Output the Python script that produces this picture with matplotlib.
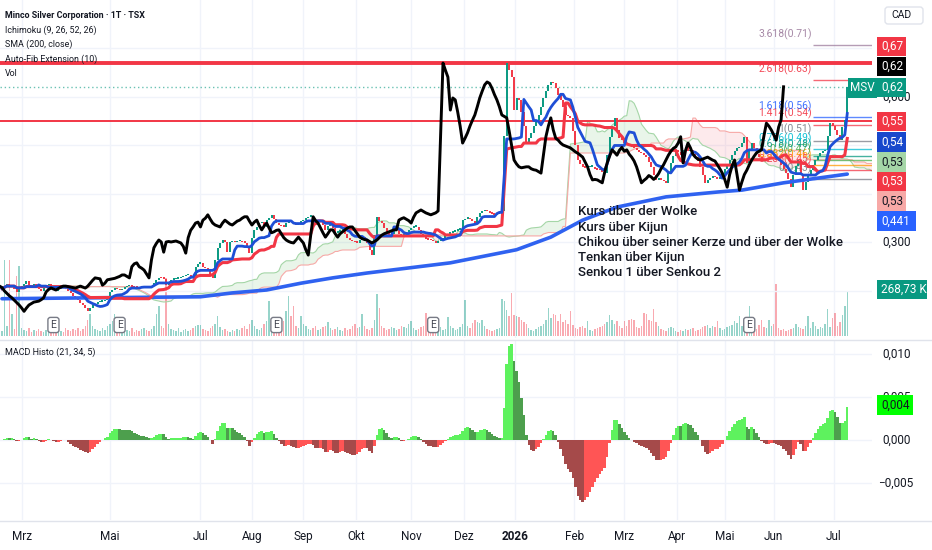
import numpy as np
import pandas as pd
import matplotlib
matplotlib.use("Agg")
import matplotlib.pyplot as plt
from matplotlib.patches import Rectangle, FancyBboxPatch

plt.rcParams['font.family'] = ['Roboto', 'DejaVu Sans']

# daily closes (Minco Silver, TSX)
close = [
    0.205, 0.21, 0.215, 0.208, 0.212, 0.205, 0.198, 0.205, 0.21, 0.215,
    0.22, 0.212, 0.208, 0.215, 0.21, 0.205, 0.2, 0.208, 0.212, 0.215,
    0.21, 0.205, 0.2, 0.205, 0.212, 0.21, 0.207, 0.2, 0.195, 0.19,
    0.186, 0.181, 0.176, 0.171, 0.165, 0.158, 0.165, 0.171, 0.174, 0.177,
    0.178, 0.179, 0.182, 0.186, 0.198, 0.203, 0.206, 0.204, 0.202, 0.205,
    0.208, 0.21, 0.21, 0.209, 0.208, 0.207, 0.206, 0.208, 0.21, 0.208,
    0.206, 0.21, 0.216, 0.222, 0.227, 0.226, 0.225, 0.212, 0.216, 0.223,
    0.224, 0.225, 0.226, 0.228, 0.23, 0.233, 0.233, 0.23, 0.227, 0.25,
    0.256, 0.258, 0.25, 0.247, 0.243, 0.235, 0.227, 0.264, 0.289, 0.298,
    0.305, 0.301, 0.28, 0.301, 0.302, 0.301, 0.302, 0.303, 0.301, 0.299,
    0.292, 0.278, 0.31, 0.325, 0.332, 0.34, 0.342, 0.332, 0.346, 0.35,
    0.357, 0.348, 0.34, 0.336, 0.334, 0.332, 0.34, 0.346, 0.342, 0.338,
    0.336, 0.34, 0.344, 0.346, 0.35, 0.353, 0.353, 0.344, 0.336, 0.342,
    0.346, 0.335, 0.326, 0.334, 0.34, 0.33, 0.32, 0.322, 0.325, 0.326,
    0.318, 0.31, 0.305, 0.302, 0.3, 0.299, 0.305, 0.311, 0.305, 0.299,
    0.285, 0.274, 0.315, 0.353, 0.345, 0.34, 0.33, 0.32, 0.311, 0.318,
    0.326, 0.326, 0.318, 0.311, 0.318, 0.322, 0.326, 0.33, 0.332, 0.332,
    0.325, 0.318, 0.311, 0.308, 0.306, 0.305, 0.302, 0.299, 0.302, 0.305,
    0.31, 0.315, 0.318, 0.32, 0.322, 0.324, 0.326, 0.326, 0.346, 0.349,
    0.351, 0.348, 0.345, 0.34, 0.352, 0.361, 0.364, 0.367, 0.364, 0.361,
    0.359, 0.357, 0.359, 0.361, 0.365, 0.52, 0.67, 0.655, 0.641, 0.573,
    0.598, 0.594, 0.569, 0.54, 0.505, 0.515, 0.526, 0.54, 0.552, 0.563,
    0.58, 0.598, 0.612, 0.625, 0.631, 0.628, 0.618, 0.605, 0.594, 0.58,
    0.563, 0.56, 0.557, 0.53, 0.5, 0.47, 0.462, 0.456, 0.454, 0.455,
    0.456, 0.456, 0.452, 0.45, 0.449, 0.446, 0.443, 0.48, 0.518, 0.54,
    0.557, 0.532, 0.515, 0.511, 0.505, 0.501, 0.499, 0.497, 0.495, 0.491,
    0.487, 0.484, 0.48, 0.476, 0.466, 0.456, 0.44, 0.429, 0.43, 0.429,
    0.426, 0.423, 0.445, 0.464, 0.478, 0.491, 0.486, 0.48, 0.49, 0.496,
    0.488, 0.491, 0.482, 0.476, 0.468, 0.456, 0.44, 0.423, 0.428, 0.432,
    0.438, 0.435, 0.43, 0.435, 0.442, 0.452, 0.46, 0.47, 0.48, 0.488,
    0.494, 0.497, 0.505, 0.518, 0.464, 0.49, 0.505, 0.495, 0.482, 0.476,
    0.472, 0.47, 0.472, 0.474, 0.476, 0.473, 0.47, 0.468, 0.46, 0.452,
    0.443, 0.43, 0.414, 0.44, 0.458, 0.47, 0.44, 0.408, 0.425, 0.44,
    0.449, 0.46, 0.47, 0.478, 0.485, 0.488, 0.491, 0.52, 0.546, 0.54,
    0.532, 0.522, 0.511, 0.538, 0.553, 0.621,
]

# volume in thousands
volume_k = [
    30, 456, 60, 456, 132, 40, 360, 420, 50, 36,
    30, 48, 24, 36, 30, 42, 30, 24, 36, 48,
    30, 24, 36, 42, 30, 24, 48, 36, 30, 42,
    36, 48, 30, 42, 60, 96, 132, 60, 42, 36,
    30, 48, 36, 60, 72, 90, 132, 48, 36, 30,
    42, 36, 30, 48, 24, 36, 30, 42, 48, 36,
    30, 42, 60, 132, 180, 60, 48, 348, 72, 42,
    36, 30, 48, 24, 36, 42, 30, 36, 48, 60,
    66, 66, 42, 36, 30, 48, 60, 72, 120, 54,
    36, 42, 30, 24, 36, 30, 42, 36, 48, 60,
    42, 72, 96, 60, 42, 36, 48, 72, 90, 210,
    60, 42, 36, 48, 30, 90, 150, 240, 120, 180,
    60, 48, 120, 72, 60, 42, 36, 48, 60, 36,
    42, 54, 60, 84, 48, 36, 42, 54, 36, 30,
    48, 36, 42, 60, 72, 48, 54, 132, 60, 42,
    36, 48, 96, 252, 168, 60, 48, 36, 42, 54,
    48, 36, 42, 60, 54, 48, 72, 90, 48, 36,
    42, 54, 60, 138, 66, 48, 36, 42, 48, 54,
    36, 42, 114, 60, 48, 36, 42, 54, 72, 216,
    60, 48, 78, 96, 84, 78, 96, 60, 42, 36,
    30, 36, 42, 48, 222, 210, 156, 120, 258, 126,
    120, 114, 96, 84, 72, 48, 36, 30, 42, 54,
    60, 72, 96, 168, 108, 132, 126, 90, 132, 84,
    96, 72, 150, 66, 48, 42, 54, 60, 48, 90,
    36, 30, 42, 48, 54, 60, 72, 84, 126, 96,
    72, 90, 60, 48, 90, 60, 96, 102, 96, 54,
    48, 60, 138, 132, 96, 90, 162, 84, 60, 42,
    36, 30, 48, 54, 48, 30, 24, 36, 30, 42,
    36, 42, 48, 30, 36, 42, 54, 60, 66, 48,
    60, 54, 90, 48, 36, 42, 54, 60, 66, 90,
    78, 120, 60, 54, 72, 180, 60, 48, 42, 66,
    96, 54, 48, 96, 60, 72, 312, 48, 36, 42,
    30, 36, 42, 48, 72, 54, 48, 42, 60, 120,
    48, 84, 60, 42, 54, 48, 72, 162, 54, 108,
    138, 60, 84, 126, 180, 268.73,
]

# SMA 200 (bar index, value)
sma_bars = [0, 40, 81, 94, 108, 122, 135, 149, 162, 183, 210, 224, 237, 251, 271, 292, 302, 319, 345]
sma_vals = [0.184, 0.186, 0.188, 0.196, 0.202, 0.216, 0.227, 0.237, 0.245, 0.258, 0.285,
            0.311, 0.346, 0.373, 0.394, 0.404, 0.408, 0.423, 0.441]

fib_ratios = ["0", "0.236", "0.382", "0.5", "0.618", "0.786", "1", "1.414", "1.618", "2.618", "3.618"]
fib_prices = [0.43, 0.449, 0.46, 0.47, 0.479, 0.493, 0.51, 0.543, 0.559, 0.634, 0.707]
fib_colors = ['#787b86', '#f23645', '#ff9800', '#4caf50', '#089981', '#00bcd4',
              '#787b86', '#f23645', '#2962ff', '#f23645', '#9c7b9c']
fib_start = 331

hline_thick = 0.67
hline_thin = 0.55
last_price = 0.62

earnings_bars = [21, 48, 112, 176, 305]
month_pos = [8, 44, 81, 102, 123, 144.5, 167, 188.5, 209.5, 233.5, 254, 275.5, 295, 315, 339.5]
month_labels = ["Mrz", "Mai", "Jul", "Aug", "Sep", "Okt", "Nov", "Dez", "2026",
                "Feb", "Mrz", "Apr", "Mai", "Jun", "Jul"]

notes = ["Kurs über der Wolke", "Kurs über Kijun",
         "Chikou über seiner Kerze und über der Wolke",
         "Tenkan über Kijun", "Senkou 1 über Senkou 2"]

UP = '#089981'
DOWN = '#f23645'
TXT = '#131722'

# ---- indicators ----
s = pd.Series(close, dtype=float)
n = len(s)
idx = np.arange(n)
opens = s.shift(1).fillna(s.iloc[0])
is_up = (s >= opens).values

def mid(w):
    return (s.rolling(w, min_periods=1).max() + s.rolling(w, min_periods=1).min()) / 2

tenkan = mid(9)
kijun = mid(26)
span_a = (tenkan + kijun) / 2
span_b = mid(52)
disp = 26

macd = s.ewm(span=21, adjust=False).mean() - s.ewm(span=34, adjust=False).mean()
hist = macd - macd.ewm(span=5, adjust=False).mean()
prev = hist.shift(1).fillna(0)
hcol = []
for h, p in zip(hist, prev):
    if h >= 0:
        hcol.append('#5ef25e' if h >= p else '#4d9f4d')
    else:
        hcol.append('#a54a4a' if h < p else '#ff5555')

# ---- layout ----
W, H = 932, 550
fig = plt.figure(figsize=(W / 100, H / 100), dpi=100)
fig.patch.set_facecolor('white')

def rect(x0, y0, x1, y1):
    return [x0 / W, 1 - y1 / H, (x1 - x0) / W, (y1 - y0) / H]

ax_vol = fig.add_axes(rect(0, 0, 872, 338))
ax = fig.add_axes(rect(0, 0, 872, 338), sharex=ax_vol)
ax_m = fig.add_axes(rect(0, 341, 872, 520), sharex=ax_vol)
ax.patch.set_alpha(0)

xmin, xmax = -0.816, 355.1
ax_vol.set_xlim(xmin, xmax)
ax.set_ylim(0.103, 0.80)
ax_vol.set_ylim(-12, 2016)
ax_m.set_ylim(-0.0093, 0.01151)

for a in (ax, ax_vol, ax_m):
    for sp in a.spines.values():
        sp.set_visible(False)
    a.tick_params(left=False, right=False, labelleft=False, bottom=False, labelbottom=False)

# grid
for m in month_pos:
    ax_vol.axvline(m, color='#f0f3fa', lw=1, zorder=0)
    ax_m.axvline(m, color='#f0f3fa', lw=1, zorder=0)
for v in [0.2, 0.3, 0.4, 0.5, 0.6, 0.7]:
    ax.axhline(v, color='#f0f3fa', lw=1, zorder=0)
for v in [-0.005, 0.0, 0.005, 0.01]:
    ax_m.axhline(v, color='#f0f3fa', lw=1, zorder=0)

# volume
ax_vol.bar(idx, volume_k, width=0.6, color=[UP if u else DOWN for u in is_up], alpha=0.42, lw=0)

# cloud
xs = idx + disp
ax.fill_between(xs, span_a, span_b, where=(span_a >= span_b).values, interpolate=True,
                color='#4caf50', alpha=0.12, lw=0, zorder=1)
ax.fill_between(xs, span_a, span_b, where=(span_a < span_b).values, interpolate=True,
                color='#f23645', alpha=0.10, lw=0, zorder=1)
ax.plot(xs, span_a, color='#a5d6a7', lw=0.8, zorder=2)
ax.plot(xs, span_b, color='#f7a9a7', lw=0.8, zorder=2)

# horizontal lines
ax.axhline(hline_thick, color='#f23645', lw=2.8, zorder=3)
ax.axhline(hline_thin, color='#f23645', lw=1.4, zorder=3)
ax.axhline(last_price, color=UP, lw=1, ls=(0, (1, 2)), alpha=0.6, zorder=3)

# fib extension
for r, p, c in zip(fib_ratios, fib_prices, fib_colors):
    ax.hlines(p, fib_start, xmax, color=c, lw=1, alpha=0.75, zorder=3)
    ax.annotate(f"{r}({p:.2f})", (fib_start - 0.5, p), xytext=(0, 8), textcoords='offset points',
                ha='right', va='center', fontsize=7.5, color=c, alpha=0.9, zorder=3)

# candles (open = previous close)
lo = np.minimum(opens.values, s.values)
hi = np.maximum(np.maximum(opens.values, s.values), lo + 0.003)
ax.vlines(idx, lo, hi, colors=[UP if u else DOWN for u in is_up], lw=1.4, zorder=4)

# sma / ichimoku lines
ax.plot(sma_bars, sma_vals, color='#2f62f0', lw=2.6, zorder=5, solid_capstyle='round')
ax.plot(idx, kijun, color='#f23645', lw=2.2, zorder=5)
ax.plot(idx, tenkan, color='#1e4fd6', lw=2.0, zorder=6)
ax.plot(idx - disp, s, color='black', lw=2.1, zorder=7)

# earnings markers
for b in earnings_bars:
    ax.text(b, 13 / 338, 'E', transform=ax.get_xaxis_transform(), ha='center', va='center',
            fontsize=7.5, color='#434651', zorder=8,
            bbox=dict(boxstyle='round,pad=0.25', fc='white', ec='#787b86', lw=1))

# notes
for k, t in enumerate(notes):
    ax.text(235.1, 0.363 - k * 0.0314, t, fontsize=9.5, va='center', ha='left',
            color=TXT, weight='medium', zorder=9)

# legend text
legend = ["Ichimoku (9, 26, 52, 26)", "SMA (200, close)", "Auto-Fib Extension (10)", "Vol"]
ax.text(5 / 872, 1 - 15 / 338, "Minco Silver Corporation · 1T · TSX", transform=ax.transAxes,
        fontsize=6.4, weight='bold', color=TXT, va='center', zorder=9)
for k, t in enumerate(legend):
    ax.text(5 / 872, 1 - (30 + 14.5 * k) / 338, t, transform=ax.transAxes,
            fontsize=6.4, color=TXT, va='center', zorder=9)

# price axis tick labels (the others sit under the value boxes)
for v in [0.3, 0.6]:
    ax.text(1 + 10 / 872, v, f"{v:.3f}".replace('.', ','), transform=ax.get_yaxis_transform(),
            fontsize=8.5, color=TXT, va='center', clip_on=False)

# MACD pane
ax_m.bar(idx, hist, width=1.0, color=hcol, lw=0)
ax_m.text(5 / 872, 1 - 11 / 179, "MACD Histo (21, 34, 5)", transform=ax_m.transAxes,
          fontsize=6.5, color=TXT, va='center')
for v in [0.01, 0.005, 0.0, -0.005]:
    lab = f"{v:.3f}".replace('.', ',').replace('-', '\u2212')
    ax_m.text(1 + (10 if v >= 0 else 6) / 872, v, lab, transform=ax_m.get_yaxis_transform(),
              fontsize=8.5, color=TXT, va='center', clip_on=False)

ax_m.tick_params(labelbottom=True, length=0, pad=7, labelsize=8.5, labelcolor=TXT)
ax_m.set_xticks(month_pos)
ax_m.set_xticklabels(month_labels)
for t in ax_m.get_xticklabels():
    if t.get_text() == "2026":
        t.set_fontweight('bold')

# overlay for scale labels
ov = fig.add_axes([0, 0, 1, 1])
ov.set_xlim(0, W)
ov.set_ylim(H, 0)
ov.axis('off')
ov.patch.set_alpha(0)
ov.plot([0, W], [340, 340], color='#e0e3eb', lw=1)
ov.plot([0, W], [521, 521], color='#e0e3eb', lw=1)

boxes = [
    (46.5, "0,67", '#f23645', 'white', 29),
    (66.5, "0,62", '#000000', 'white', 29),
    (87.5, "0,62", UP, 'white', 29),
    (121.5, "0,55", '#f23645', 'white', 29),
    (142, "0,54", '#1848cc', 'white', 29),
    (162, "0,53", '#a5d6a7', TXT, 29),
    (181.5, "0,53", '#f23645', 'white', 29),
    (201, "0,53", '#f7a9a7', TXT, 29),
    (221, "0,441", '#2962ff', 'white', 39),
    (289.5, "268,73 K", UP, 'white', 50),
    (405, "0,004", '#00ff00', TXT, 36),
]
for yc, t, fc, tc, w in boxes:
    ov.add_patch(Rectangle((877, yc - 9.8), w, 19.6, fc=fc, ec='none'))
    ov.text(877 + 4, yc, t, color=tc, fontsize=8.5, va='center', ha='left')

ov.add_patch(Rectangle((848, 78), 29, 19.6, fc=UP, ec='none'))
ov.text(862.5, 87.8, "MSV", color='white', fontsize=8.5, va='center', ha='center')

ov.add_patch(FancyBboxPatch((885, 7), 38, 17, boxstyle='round,pad=0,rounding_size=3',
                            fc='white', ec='#e0e3eb', lw=1))
ov.text(891, 15.5, "CAD", color=TXT, fontsize=7.5, va='center', ha='left')

fig.savefig('out.png', dpi=100)
